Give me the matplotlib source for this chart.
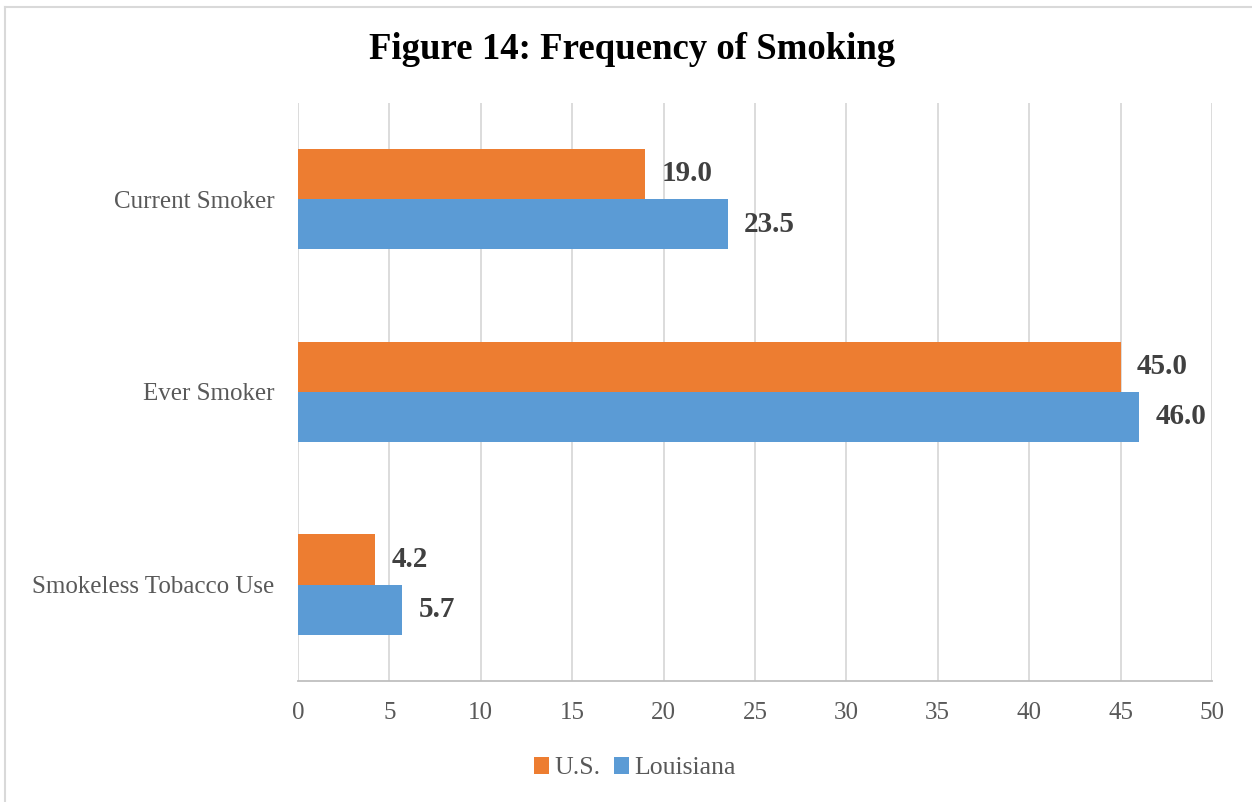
import numpy as np
import matplotlib.pyplot as plt

categories = ["Current Smoker", "Ever Smoker", "Smokeless Tobacco Use"]
us_vals = [19.0, 45.0, 4.2]
la_vals = [23.5, 46.0, 5.7]
xticks = [0, 5, 10, 15, 20, 25, 30, 35, 40, 45, 50]

plt.rcParams['font.family'] = ['Liberation Serif', 'DejaVu Serif']

fig = plt.figure(figsize=(12.52, 8.02), dpi=100)
ax = fig.add_axes([0.238, 0.151, 0.730, 0.721])

y = np.arange(len(categories))
h = 0.26
ax.barh(y - h/2, us_vals, height=h, color='#ED7D31', label='U.S.', zorder=3)
ax.barh(y + h/2, la_vals, height=h, color='#5B9BD5', label='Louisiana', zorder=3)

for yi, v in zip(y, us_vals):
    ax.text(v + 0.9, yi - h/2, f"{v:.1f}", va='center', ha='left',
            fontsize=21, fontweight='bold', color='#404040')
for yi, v in zip(y, la_vals):
    ax.text(v + 0.9, yi + h/2, f"{v:.1f}", va='center', ha='left',
            fontsize=21, fontweight='bold', color='#404040')

ax.set_ylim(2.5, -0.5)
ax.set_xlim(0, 50)
ax.set_xticks(xticks)
ax.set_yticks(y)
ax.set_yticklabels(categories)
ax.tick_params(axis='both', length=0, labelsize=18, labelcolor='#595959')
ax.tick_params(axis='x', pad=15)
ax.tick_params(axis='y', pad=17)
ax.grid(axis='x', color='#D9D9D9', linewidth=1.3, zorder=0)
for s in ['top', 'right', 'left']:
    ax.spines[s].set_visible(False)
ax.spines['bottom'].set_color('#BFBFBF')
ax.spines['bottom'].set_linewidth(1.3)

fig.text(0.505, 0.938, "Figure 14: Frequency of Smoking", ha='center', va='center',
         fontsize=26.5, fontweight='bold', color='black')

fig.legend(loc='center', bbox_to_anchor=(0.507, 0.042), ncol=2, frameon=False,
           fontsize=18.5, handlelength=0.6, handleheight=0.6, handletextpad=0.2,
           columnspacing=0.5, labelcolor='#595959')

# chart border
fig.add_artist(plt.Line2D([0.004, 0.004], [0, 0.991], color='#D9D9D9', lw=1.5,
                          transform=fig.transFigure))
fig.add_artist(plt.Line2D([0.004, 1.0], [0.991, 0.991], color='#D9D9D9', lw=1.5,
                          transform=fig.transFigure))

fig.savefig('out.png', dpi=100)
